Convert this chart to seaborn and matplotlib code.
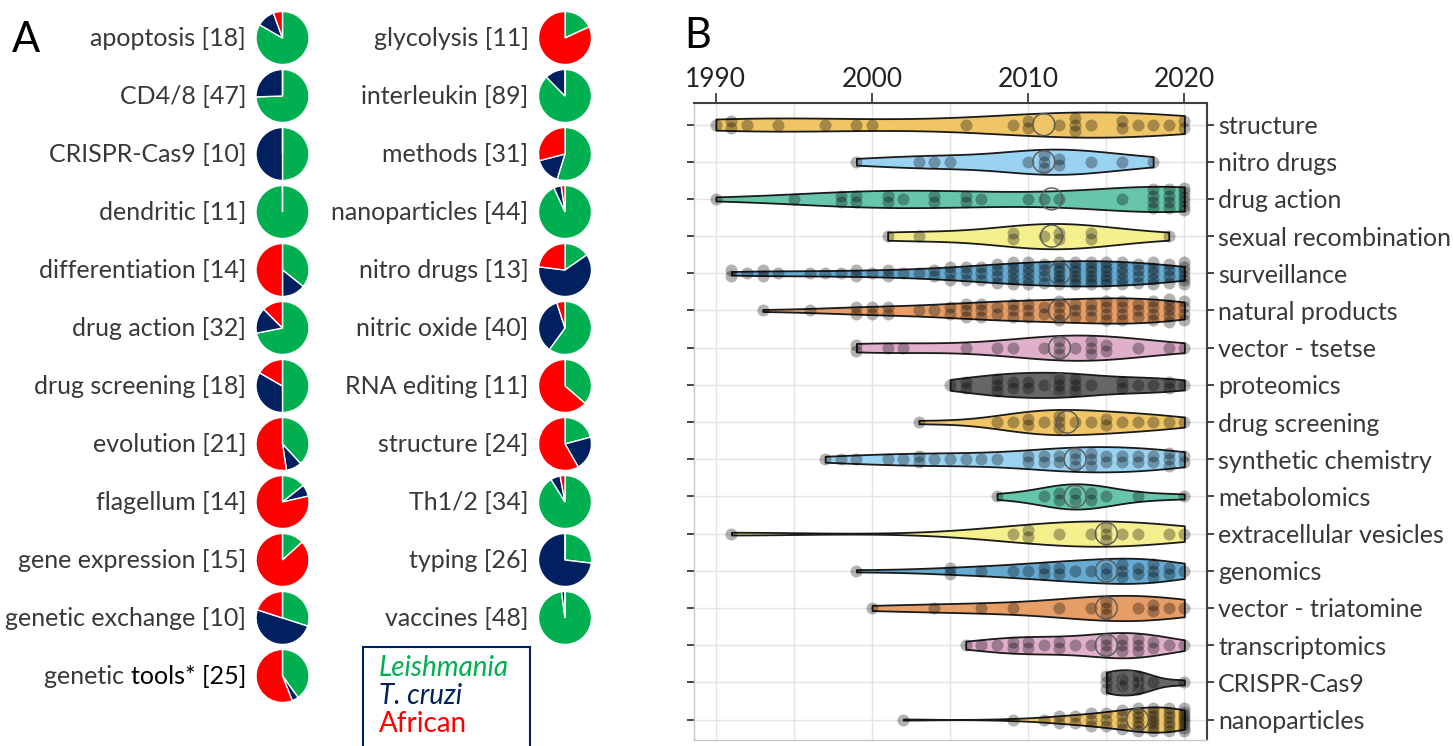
import numpy as np
import pandas as pd
import matplotlib
matplotlib.use("Agg")
import matplotlib.pyplot as plt
from matplotlib.ticker import MultipleLocator, FixedLocator
from matplotlib.patches import Rectangle
from matplotlib.colors import to_rgb
import seaborn as sns

# ---------------- Panel A: share of papers per parasite group ----------------
pie_left = ["apoptosis", "CD4/8", "CRISPR-Cas9", "dendritic", "differentiation",
            "drug action", "drug screening", "evolution", "flagellum",
            "gene expression", "genetic exchange", "genetic tools*"]
leish_left = [15, 35, 5, 11, 5, 23, 9, 8, 2, 2, 3, 10]
cruzi_left = [2, 12, 5, 0, 2, 5, 6, 2, 1, 0, 5, 1]
african_left = [1, 0, 0, 0, 7, 4, 3, 11, 11, 13, 2, 14]

pie_right = ["glycolysis", "interleukin", "methods", "nanoparticles", "nitro drugs",
             "nitric oxide", "RNA editing", "structure", "Th1/2", "typing", "vaccines"]
leish_right = [2, 78, 17, 41, 2, 24, 4, 5, 31, 7, 47]
cruzi_right = [0, 11, 5, 2, 8, 14, 0, 5, 2, 19, 1]
african_right = [9, 0, 9, 1, 3, 2, 7, 14, 1, 0, 0]

species = ["Leishmania", "T. cruzi", "African"]
species_colors = ["#00B050", "#002060", "#FF0000"]

# ---------------- Panel B: publication years per topic (year: papers) ----------------
structure = {1990: 1, 1991: 2, 1992: 1, 1994: 1, 1997: 1, 1999: 1, 2000: 1, 2006: 1,
             2009: 1, 2010: 2, 2012: 1, 2013: 3, 2014: 1, 2016: 2, 2017: 1, 2018: 1,
             2019: 1, 2020: 2}
nitro_drugs = {1999: 1, 2003: 1, 2004: 1, 2005: 1, 2010: 1, 2011: 3, 2012: 2, 2014: 1,
               2016: 1, 2018: 1}
drug_action = {1990: 1, 1995: 1, 1998: 2, 1999: 2, 2001: 2, 2002: 1, 2004: 2, 2006: 2,
               2007: 1, 2010: 1, 2011: 1, 2012: 1, 2016: 1, 2018: 4, 2019: 4, 2020: 6}
sexual_recombination = {2001: 1, 2003: 1, 2009: 2, 2011: 1, 2012: 2, 2014: 2, 2019: 1}
surveillance = {1991: 2, 1992: 1, 1993: 2, 1994: 1, 1996: 1, 1997: 1, 1998: 1, 1999: 2,
                2000: 1, 2001: 2, 2002: 1, 2003: 1, 2004: 2, 2005: 3, 2006: 3, 2007: 3,
                2008: 4, 2009: 5, 2010: 5, 2011: 4, 2012: 6, 2013: 6, 2014: 6, 2015: 6,
                2016: 5, 2017: 4, 2018: 5, 2019: 4, 2020: 6}
natural_products = {1993: 1, 1996: 1, 1999: 2, 2000: 2, 2001: 2, 2003: 1, 2004: 1,
                    2005: 2, 2006: 3, 2007: 3, 2008: 2, 2009: 3, 2010: 3, 2011: 2,
                    2012: 4, 2013: 3, 2014: 3, 2015: 4, 2016: 4, 2017: 3, 2018: 4,
                    2019: 5, 2020: 4}
vector_tsetse = {1999: 2, 2001: 1, 2002: 1, 2006: 1, 2008: 1, 2009: 1, 2011: 1, 2012: 3,
                 2013: 1, 2014: 3, 2015: 2, 2017: 1, 2019: 1, 2020: 1}
proteomics = {2005: 1, 2006: 2, 2008: 3, 2009: 2, 2010: 2, 2011: 1, 2012: 3, 2013: 3,
              2014: 1, 2016: 2, 2017: 1, 2018: 1, 2019: 2, 2020: 1}
drug_screening = {2003: 1, 2008: 1, 2009: 1, 2010: 2, 2011: 1, 2012: 3, 2013: 1, 2014: 1,
                  2015: 2, 2016: 1, 2017: 1, 2018: 1, 2019: 1, 2020: 1}
synthetic_chemistry = {1997: 1, 1998: 1, 1999: 1, 2001: 1, 2002: 1, 2003: 2, 2004: 1,
                       2005: 1, 2006: 1, 2007: 1, 2008: 1, 2010: 2, 2011: 2, 2012: 2,
                       2013: 3, 2014: 3, 2015: 2, 2016: 2, 2017: 2, 2018: 2, 2019: 3,
                       2020: 2}
metabolomics = {2008: 1, 2011: 1, 2012: 2, 2013: 2, 2014: 2, 2015: 1, 2017: 1, 2020: 1}
extracellular_vesicles = {1991: 1, 2009: 1, 2010: 2, 2012: 1, 2014: 1, 2015: 3, 2016: 1,
                          2017: 1, 2019: 1, 2020: 1}
genomics = {1999: 1, 2005: 2, 2007: 1, 2009: 1, 2010: 1, 2011: 2, 2012: 2, 2013: 1,
            2014: 1, 2015: 2, 2016: 3, 2017: 2, 2018: 3, 2019: 2, 2020: 1}
vector_triatomine = {2000: 1, 2004: 1, 2007: 1, 2009: 1, 2012: 1, 2014: 1, 2015: 3,
                     2017: 1, 2018: 2, 2019: 1, 2020: 1}
transcriptomics = {2006: 1, 2007: 1, 2008: 1, 2009: 2, 2010: 2, 2011: 1, 2012: 2, 2013: 1,
                   2014: 1, 2015: 3, 2016: 3, 2017: 3, 2018: 2, 2019: 1, 2020: 1}
crispr_cas9 = {2015: 3, 2016: 2, 2017: 3, 2018: 1, 2020: 1}
nanoparticles = {2002: 1, 2009: 1, 2011: 1, 2012: 2, 2013: 2, 2014: 3, 2015: 3, 2016: 4,
                 2017: 6, 2018: 7, 2019: 6, 2020: 8}

topics = ["structure", "nitro drugs", "drug action", "sexual recombination",
          "surveillance", "natural products", "vector - tsetse", "proteomics",
          "drug screening", "synthetic chemistry", "metabolomics",
          "extracellular vesicles", "genomics", "vector - triatomine",
          "transcriptomics", "CRISPR-Cas9", "nanoparticles"]
year_counts = [structure, nitro_drugs, drug_action, sexual_recombination, surveillance,
               natural_products, vector_tsetse, proteomics, drug_screening,
               synthetic_chemistry, metabolomics, extracellular_vesicles, genomics,
               vector_triatomine, transcriptomics, crispr_cas9, nanoparticles]
year_ticks = [1990, 2000, 2010, 2020]

# ---------------- styling ----------------
sns.set_theme(style="white")
plt.rcParams["font.family"] = ["Lato", "DejaVu Sans"]
TEXT = "#383838"
FS = 18

okabe_ito = ["#E69F00", "#56B4E9", "#009E73", "#F0E442",
             "#0072B2", "#D55E00", "#CC79A7", "#000000"]


def faded(c, a=0.6):
    r, g, b = to_rgb(c)
    return (a * r + 1 - a, a * g + 1 - a, a * b + 1 - a)


violin_colors = [faded(okabe_ito[i % len(okabe_ito)]) for i in range(len(topics))]

W, H = 1453, 746
fig = plt.figure(figsize=(W / 100, H / 100), dpi=100)

# ---------------- Panel A ----------------
axA = fig.add_axes([0, 0, 683 / W, 1])
col_x = [282.5, 565.0]
row0, row_step, radius, gap = 38.0, 58.0, 26.5, 10.0
columns = [(pie_left, leish_left, cruzi_left, african_left),
           (pie_right, leish_right, cruzi_right, african_right)]
for cx, (names, le, tc, af) in zip(col_x, columns):
    for i, name in enumerate(names):
        cy = H - (row0 + i * row_step)
        vals = [le[i], tc[i], af[i]]
        axA.pie(vals, colors=species_colors, startangle=90, counterclock=False,
                center=(cx, cy), radius=radius,
                wedgeprops=dict(edgecolor="white", linewidth=1.0))
        total = sum(vals)
        tx = cx - radius - gap
        if name.endswith("*"):
            head, tail = name.split(" ", 1)
            t2 = axA.text(tx, cy, f"{tail} [{total}]", ha="right", va="center",
                          fontsize=FS, color="black")
            axA.annotate(head + " ", xy=(0, 0), xycoords=t2, ha="right", va="bottom",
                         fontsize=FS, color=TEXT)
        else:
            axA.text(tx, cy, f"{name} [{total}]", ha="right", va="center",
                     fontsize=FS, color=TEXT)

# species key
axA.add_patch(Rectangle((363, -3), 167, 102, facecolor="none", edgecolor="#002060",
                        linewidth=1.5, clip_on=False))
for k, (lab, col) in enumerate(zip(species, species_colors)):
    axA.text(379, H - (668 + k * 28), lab, color=col, fontsize=20, va="center",
             style="normal" if lab == "African" else "italic")

axA.set_xlim(0, 683)
axA.set_ylim(0, H)
axA.set_axis_off()

# ---------------- Panel B ----------------
axB = fig.add_axes([694 / W, 6 / H, 513 / W, 637 / H])
records = [(t, yr) for t, d in zip(topics, year_counts) for yr, n in d.items()
           for _ in range(n)]
df = pd.DataFrame(records, columns=["topic", "year"])

sns.violinplot(data=df, x="year", y="topic", hue="topic", order=topics,
               hue_order=topics, palette=violin_colors, legend=False, orient="h",
               inner=None, cut=0, density_norm="width", width=0.68,
               linewidth=1.3, linecolor="#1a1a1a", saturation=1, ax=axB)


def stack_offsets(n, step=0.17, limit=0.3):
    if n == 1:
        return np.zeros(1)
    half = min((n - 1) / 2 * step, limit)
    return np.linspace(-half, half, n)


px, py = [], []
for i, d in enumerate(year_counts):
    for yr, n in d.items():
        for off in stack_offsets(n):
            px.append(float(yr))
            py.append(i + off)
sns.scatterplot(x=px, y=py, s=75, color="black", alpha=0.3, linewidth=0,
                legend=False, zorder=3, ax=axB)

medians = [np.median(np.repeat(list(d.keys()), list(d.values()))) for d in year_counts]
axB.scatter(medians, np.arange(len(topics)), s=250, facecolors="none",
            edgecolors="#5a5a5a", linewidths=1.0, zorder=4)

axB.set_xlim(1988.6, 2021.45)
axB.set_ylim(16.55, -0.58)
axB.set_xlabel("")
axB.set_ylabel("")
axB.xaxis.set_major_locator(FixedLocator(year_ticks))
axB.xaxis.set_minor_locator(MultipleLocator(5))
axB.xaxis.tick_top()
axB.tick_params(axis="x", which="major", direction="out", length=7, width=1.3,
                color="#404040", labelsize=FS + 1, labelcolor="#222222", pad=1)
axB.tick_params(axis="x", which="minor", length=0)
axB.tick_params(axis="y", which="major", left=True, right=True, labelleft=False,
                labelright=True, direction="out", length=5, width=1.2,
                labelsize=FS, labelcolor=TEXT, pad=3)
for tk in axB.yaxis.get_major_ticks():
    tk.tick1line.set_color("#c4c4c4")
    tk.tick2line.set_color("#404040")
axB.grid(True, which="both", axis="x", color="#e3e3e3", linewidth=1)
axB.grid(True, which="major", axis="y", color="#e3e3e3", linewidth=1)
axB.set_axisbelow(True)
for side in ["top", "right"]:
    axB.spines[side].set_color("#404040")
    axB.spines[side].set_linewidth(1.5)
for side in ["left", "bottom"]:
    axB.spines[side].set_color("#c8c8c8")
    axB.spines[side].set_linewidth(1.0)

# panel letters
fig.text(12 / W, 1 - 40 / H, "A", fontsize=30, va="center", ha="left", color="black")
fig.text(684 / W, 1 - 36 / H, "B", fontsize=30, va="center", ha="left", color="black")

fig.savefig("out.png", dpi=100)
